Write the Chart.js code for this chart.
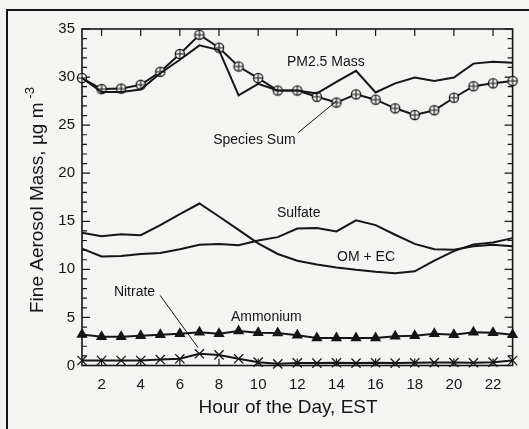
<!DOCTYPE html>
<html><head><meta charset="utf-8">
<script src="https://cdn.jsdelivr.net/npm/chart.js@4.4.1/dist/chart.umd.min.js"></script>
<style>html,body{margin:0;padding:0;background:#f4f4f2;}#wrap{width:529px;height:429px;position:relative;}canvas{display:block;}</style>
</head><body><div id="wrap"><canvas id="c" width="529" height="429"></canvas></div>
<script>
// ---- data ----
const hours = [1,2,3,4,5,6,7,8,9,10,11,12,13,14,15,16,17,18,19,20,21,22,23];
const pm25Mass = [29.9,28.45,28.45,28.7,30.4,31.8,33.3,32.8,28.1,29.3,28.6,28.6,28.3,29.5,30.65,28.4,29.35,29.95,29.6,29.95,31.4,31.6,31.5];
const speciesSum = [29.9,28.75,28.8,29.2,30.55,32.4,34.4,33.05,31.1,29.9,28.6,28.6,27.95,27.35,28.2,27.65,26.75,26.05,26.55,27.85,29.05,29.35,29.6];
const sulfate = [12.15,11.35,11.4,11.6,11.7,12.1,12.55,12.65,12.5,13.0,13.35,14.25,14.3,13.95,15.1,14.6,13.6,12.65,12.1,12.05,12.4,12.55,12.4];
const omec = [13.8,13.45,13.65,13.55,14.6,15.75,16.85,15.5,14.1,12.7,11.6,10.9,10.5,10.2,9.95,9.75,9.6,9.8,10.9,11.9,12.6,12.8,13.25];
const ammonium = [3.23,3.0,3.0,3.1,3.2,3.3,3.47,3.3,3.58,3.4,3.37,3.15,2.85,2.85,2.85,2.85,3.05,3.1,3.3,3.2,3.47,3.4,3.2];
const nitrate = [0.52,0.52,0.52,0.52,0.62,0.7,1.22,1.1,0.7,0.35,0.17,0.27,0.25,0.28,0.25,0.28,0.25,0.28,0.3,0.31,0.28,0.35,0.52];
const xTickLabels = [2,4,6,8,10,12,14,16,18,20,22];
const yTickLabels = [0,5,10,15,20,25,30,35];
const xTitle = 'Hour of the Day, EST';
const yTitle = 'Fine Aerosol Mass, µg m';
const yTitleSup = '-3';

// ---- styling ----
const INK = '#151515';
const BG = '#f4f4f2';
const FONT = '"Liberation Sans", Arial, sans-serif';

// labels placed in data units: [text, x(hour), y(value)]
const labels = [
  ['PM2.5 Mass', 11.47, 31.56],
  ['Species Sum', 7.7, 23.4],
  ['Sulfate', 10.96, 15.8],
  ['OM + EC', 14.03, 11.25],
  ['Nitrate', 2.63, 7.6],
  ['Ammonium', 8.61, 5.0]
];
const leaders = [
  [12.03, 24.2, 14.0, 27.5],
  [4.99, 7.29, 6.93, 1.85]
];

function circlePlus(r){
  const s = Math.ceil(2*r+4), c = document.createElement('canvas');
  c.width = s; c.height = s;
  const g = c.getContext('2d'), m = s/2;
  g.fillStyle = BG; g.strokeStyle = INK; g.lineWidth = 1.3;
  g.beginPath(); g.arc(m,m,r,0,Math.PI*2); g.fill(); g.stroke();
  g.lineWidth = 1.1; g.beginPath();
  g.moveTo(m-r,m); g.lineTo(m+r,m); g.moveTo(m,m-r); g.lineTo(m,m+r); g.stroke();
  return c;
}

const frame = {
  id: 'frame',
  beforeDraw(chart){
    const ctx = chart.ctx;
    ctx.save();
    ctx.strokeStyle = INK; ctx.lineWidth = 2;
    ctx.beginPath();
    ctx.moveTo(7, 430); ctx.lineTo(7, 10); ctx.lineTo(530, 10);
    ctx.stroke();
    ctx.restore();
  },
  beforeDatasetsDraw(chart){
    const {ctx, chartArea:a, scales:{x, y}} = chart;
    ctx.save();
    ctx.strokeStyle = INK;
    ctx.lineWidth = 1.6;
    ctx.strokeRect(a.left, a.top, a.right-a.left, a.bottom-a.top);
    ctx.lineWidth = 1.2;
    ctx.beginPath();
    for (let v = y.min; v <= y.max; v++){
      const py = y.getPixelForValue(v), len = (v % 5 === 0) ? 8 : 5;
      ctx.moveTo(a.left, py); ctx.lineTo(a.left+len, py);
      ctx.moveTo(a.right, py); ctx.lineTo(a.right-len, py);
    }
    xTickLabels.forEach(v => {
      const px = x.getPixelForValue(v);
      ctx.moveTo(px, a.top); ctx.lineTo(px, a.top+7);
      ctx.moveTo(px, a.bottom); ctx.lineTo(px, a.bottom-7);
    });
    ctx.stroke();
    ctx.restore();
  },
  afterDraw(chart){
    const {ctx, chartArea:a, scales:{x, y}} = chart;
    ctx.save();
    ctx.fillStyle = INK; ctx.strokeStyle = INK;
    // annotations
    ctx.font = '14px ' + FONT; ctx.textAlign = 'left'; ctx.textBaseline = 'middle';
    labels.forEach(([t, hx, vy]) => ctx.fillText(t, x.getPixelForValue(hx), y.getPixelForValue(vy)));
    ctx.lineWidth = 1;
    ctx.beginPath();
    leaders.forEach(([x1,y1,x2,y2]) => {
      ctx.moveTo(x.getPixelForValue(x1), y.getPixelForValue(y1));
      ctx.lineTo(x.getPixelForValue(x2), y.getPixelForValue(y2));
    });
    ctx.stroke();
    // x title
    ctx.font = '19px ' + FONT; ctx.textAlign = 'center'; ctx.textBaseline = 'alphabetic';
    ctx.fillText(xTitle, 288, 413);
    // y title (rotated)
    ctx.translate(43, 313); ctx.rotate(-Math.PI/2);
    ctx.textAlign = 'left';
    ctx.fillText(yTitle, 0, 0);
    const w = ctx.measureText(yTitle).width;
    ctx.font = '13px ' + FONT;
    ctx.fillText(yTitleSup, w + 4, -9);
    ctx.restore();
  }
};

const common = {borderColor: INK, borderWidth: 2, tension: 0, clip: false, pointBorderColor: INK, pointBackgroundColor: INK};

new Chart(document.getElementById('c'), {
  type: 'line',
  data: {
    labels: hours,
    datasets: [
      {...common, label: 'PM2.5 Mass', data: pm25Mass, pointRadius: 0},
      {...common, label: 'Species Sum', data: speciesSum, pointStyle: circlePlus(4.6), pointRadius: 5},
      {...common, label: 'Sulfate', data: sulfate, pointRadius: 0},
      {...common, label: 'OM + EC', data: omec, pointRadius: 0},
      {...common, label: 'Ammonium', data: ammonium, pointStyle: 'triangle', pointRadius: 4.5},
      {...common, label: 'Nitrate', data: nitrate, pointStyle: 'crossRot', pointRadius: 6.5, pointBorderWidth: 1.3}
    ].map(d => ({...d, data: d.data.map((v, i) => ({x: hours[i], y: v}))}))
  },
  options: {
    responsive: false,
    animation: false,
    events: [],
    layout: {padding: {left: 0, right: 16.4, top: 29, bottom: 0}},
    plugins: {legend: {display: false}, tooltip: {enabled: false}},
    scales: {
      x: {
        type: 'linear', min: 1, max: 23,
        grid: {display: false, drawTicks: false}, border: {display: false},
        afterBuildTicks: s => { s.ticks = xTickLabels.map(v => ({value: v})); },
        ticks: {color: INK, font: {size: 15, family: FONT}, padding: 10, maxRotation: 0, autoSkip: false},
        afterFit: s => { s.height = 63.5; }
      },
      y: {
        type: 'linear', min: 0, max: 35,
        grid: {display: false, drawTicks: false}, border: {display: false},
        afterBuildTicks: s => { s.ticks = yTickLabels.map(v => ({value: v})); },
        ticks: {color: INK, font: {size: 15, family: FONT}, padding: 7},
        afterFit: s => { s.width = 82; }
      }
    }
  },
  plugins: [frame]
});
</script>
</body></html>
